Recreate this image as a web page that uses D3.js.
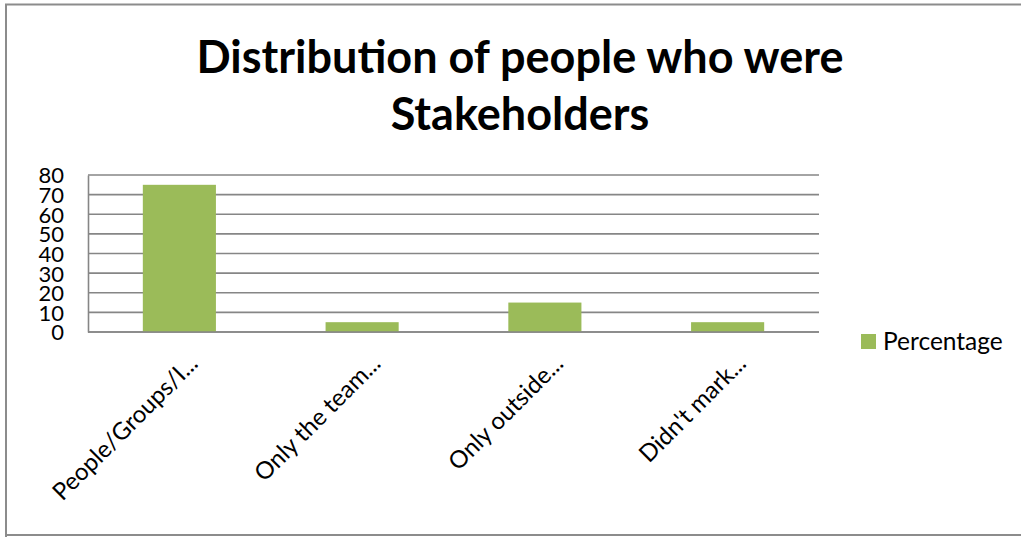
<!DOCTYPE html>
<html>
<head>
<meta charset="utf-8">
<script src="https://cdn.jsdelivr.net/npm/d3@7"></script>
<style>
  html, body { margin: 0; padding: 0; background: #fff; }
  svg { display: block; font-family: Lato, "Open Sans", sans-serif; }
</style>
</head>
<body>
<svg id="chart" width="1021" height="537"></svg>
<script>
// Chart content
const titleLines = ["Distribution of people who were", "Stakeholders"];
const categories = ["People/Groups/I...", "Only the team...", "Only outside...", "Didn't mark..."];
const percentage = [75, 5, 15, 5];
const yTicks = [0, 10, 20, 30, 40, 50, 60, 70, 80];
const seriesName = "Percentage";

const barColor = "#9bbb59";
const gridColor = "#868686";

const svg = d3.select("#chart");

// Outer chart frame
svg.append("path")
  .attr("d", "M6,537 L6,4.5 L1021,4.5 M6,535 L1021,535")
  .attr("fill", "none")
  .attr("stroke", "#8c8c8c")
  .attr("stroke-width", 2);

// Title
const title = svg.append("text")
  .attr("text-anchor", "middle")
  .attr("font-weight", "bold")
  .attr("font-size", 45)
  .attr("fill", "#000");
title.selectAll("tspan")
  .data(titleLines)
  .join("tspan")
  .attr("x", 520)
  .attr("y", (d, i) => 73 + i * 57)
  .text(d => d);

// Plot area
const plot = { left: 88, right: 819, top: 175, bottom: 332 };

const x = d3.scaleBand()
  .domain(categories)
  .range([plot.left, plot.right])
  .paddingInner(0.6)
  .paddingOuter(0.3);

const y = d3.scaleLinear()
  .domain([0, 80])
  .range([plot.bottom, plot.top]);

// Horizontal gridlines
svg.append("g")
  .selectAll("line")
  .data(yTicks)
  .join("line")
  .attr("x1", plot.left)
  .attr("x2", plot.right)
  .attr("y1", d => y(d))
  .attr("y2", d => y(d))
  .attr("stroke", gridColor)
  .attr("stroke-width", 1.6);

// Bars
svg.append("g")
  .selectAll("rect")
  .data(categories)
  .join("rect")
  .attr("x", d => x(d))
  .attr("width", x.bandwidth())
  .attr("y", (d, i) => y(percentage[i]))
  .attr("height", (d, i) => y(0) - y(percentage[i]))
  .attr("fill", barColor);

// Value axis
const yAxis = svg.append("g")
  .attr("transform", `translate(${plot.left},0)`)
  .call(d3.axisLeft(y).tickValues(yTicks).tickSize(0).tickPadding(24));
yAxis.select(".domain")
  .attr("stroke", gridColor)
  .attr("stroke-width", 1.6);
yAxis.selectAll("text")
  .attr("font-family", "Lato, sans-serif")
  .attr("font-size", 22)
  .attr("fill", "#000")
  .attr("dy", "0.36em");

// Category axis baseline
svg.append("line")
  .attr("x1", plot.left).attr("x2", plot.right)
  .attr("y1", y(0)).attr("y2", y(0))
  .attr("stroke", gridColor)
  .attr("stroke-width", 1.6);

// Category labels, rotated
svg.append("g")
  .selectAll("text")
  .data(categories)
  .join("text")
  .attr("transform", d => `translate(${x(d) + x.bandwidth() / 2 + 20},${plot.bottom + 33}) rotate(-45)`)
  .attr("text-anchor", "end")
  .attr("font-size", 24)
  .attr("fill", "#000")
  .text(d => d);

// Legend
const legend = svg.append("g").attr("transform", "translate(861,334)");
legend.append("rect")
  .attr("width", 15)
  .attr("height", 15)
  .attr("fill", barColor);
legend.append("text")
  .attr("x", 22)
  .attr("y", 16)
  .attr("font-size", 24.5)
  .attr("fill", "#000")
  .text(seriesName);
</script>
</body>
</html>
